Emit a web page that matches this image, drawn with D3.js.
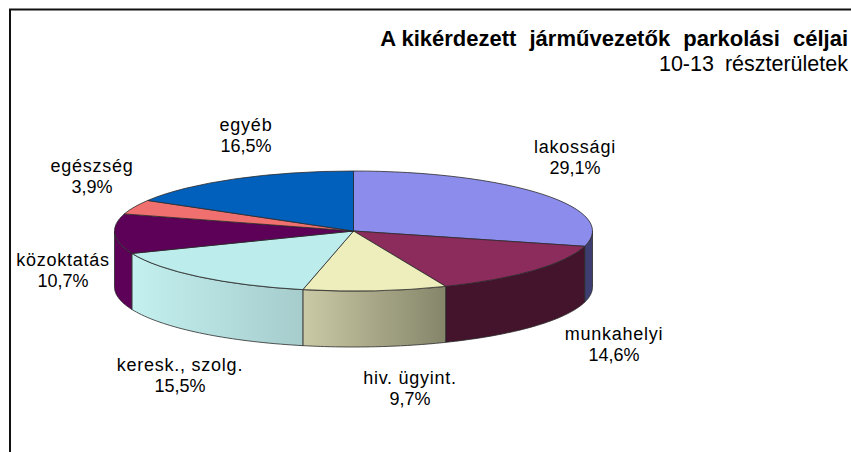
<!DOCTYPE html>
<html>
<head>
<meta charset="utf-8">
<script src="https://cdn.jsdelivr.net/npm/d3@7"></script>
<style>
html,body{margin:0;padding:0;background:#fff}
svg{display:block}
text{font-family:"Liberation Sans",Arial,sans-serif;fill:#000}
</style>
</head>
<body>
<svg id="chart" width="851" height="452"></svg>
<script>
// values
const categories = ["lakossági","munkahelyi","hiv. ügyint.","keresk., szolg.","közoktatás","egészség","egyéb"];
const shares = [29.1,14.6,9.7,15.5,10.7,3.9,16.5];
const topColors = ["#8C8CEC","#8C2C5C","#EEEEBC","#BCECEC","#5C0058","#F07070","#0060BC"];
const wallFrom = ["#3E3E70","#43142C","#CACAA6","#C4F0F0","#5C0058","#F07070","#0060BC"];
const wallTo = ["#3E3E70","#43142C","#85856A","#A6CCCC","#5C0058","#F07070","#0060BC"];
// label centres, first line baseline
const labelX = [575,614,410,180,63,92,246];
const labelY = [153,340,384,371,266,172,131];

const width = 851, cx = 353.5, cy = 231, rx = 239, ry = 60, depth = 56;
const svg = d3.select("#chart");
const pct = d3.formatLocale({decimal:",",thousands:" ",grouping:[3],currency:["",""]}).format(".1f");

const data = categories.map((c,i)=>({name:c,value:shares[i],i:i}));
const slices = d3.pie().sort(null).value(d=>d.value)(data);

// frame, only top and left are there
svg.append("path")
   .attr("d","M10,452V9.5H"+width)
   .attr("fill","none").attr("stroke","#111").attr("stroke-width",2);

// gradients for the side walls
const defs = svg.append("defs");
data.forEach((d)=>{
  const g = defs.append("linearGradient").attr("id","wall"+d.i);
  g.append("stop").attr("offset","0%").attr("stop-color",wallFrom[d.i]);
  g.append("stop").attr("offset","100%").attr("stop-color",wallTo[d.i]);
});

// angle to a point on the rim
const rimX = a => cx + rx*Math.sin(a);
const rimY = a => cy - ry*Math.cos(a);
const wallLine = d3.line().x(d=>d[0]).y(d=>d[1]);

// walls, only the front half shows
const front = slices.map(s=>{
  const a0 = Math.max(s.startAngle,Math.PI/2);
  const a1 = Math.min(s.endAngle,Math.PI*1.5);
  return {s:s,a0:a0,a1:a1};
}).filter(w=>w.a1>w.a0);

svg.append("g").selectAll("path").data(front).join("path")
   .attr("d",w=>{
     const steps = d3.range(0,41).map(k=>w.a0+(w.a1-w.a0)*k/40);
     const upper = steps.map(a=>[rimX(a),rimY(a)]);
     const lower = steps.slice().reverse().map(a=>[rimX(a),rimY(a)+depth]);
     return wallLine(upper.concat(lower))+"Z";
   })
   .attr("fill",w=>"url(#wall"+w.s.data.i+")")
   .attr("stroke","#2a2a2a").attr("stroke-width",0.8).attr("stroke-linejoin","round");

// top faces: unit pie squashed into the ellipse
const arc = d3.arc().innerRadius(0).outerRadius(1);
svg.append("g")
   .attr("transform","translate("+cx+","+cy+") scale("+rx+","+ry+")")
   .selectAll("path").data(slices).join("path")
   .attr("d",arc)
   .attr("fill",d=>topColors[d.data.i])
   .attr("stroke","#2a2a2a").attr("stroke-width",0.8)
   .attr("vector-effect","non-scaling-stroke").attr("stroke-linejoin","round");

// labels
const labels = svg.append("g").attr("font-size",18).attr("text-anchor","middle");
data.forEach((d)=>{
  labels.append("text").attr("x",labelX[d.i]).attr("y",labelY[d.i])
        .attr("letter-spacing",0.75).text(d.name);
  labels.append("text").attr("x",labelX[d.i]).attr("y",labelY[d.i]+21).text(pct(d.value)+"%");
});

// title, the gap after the A is narrower than the others
const title = svg.append("text").attr("x",848).attr("y",46).attr("text-anchor","end")
   .attr("font-size",22).attr("font-weight","bold");
title.append("tspan").text("A ");
title.append("tspan").attr("word-spacing",7).text("kikérdezett járművezetők parkolási céljai");
svg.append("text").attr("x",848).attr("y",71).attr("text-anchor","end")
   .attr("font-size",21.5).attr("word-spacing",5)
   .text("10-13 részterületek");
</script>
</body>
</html>
